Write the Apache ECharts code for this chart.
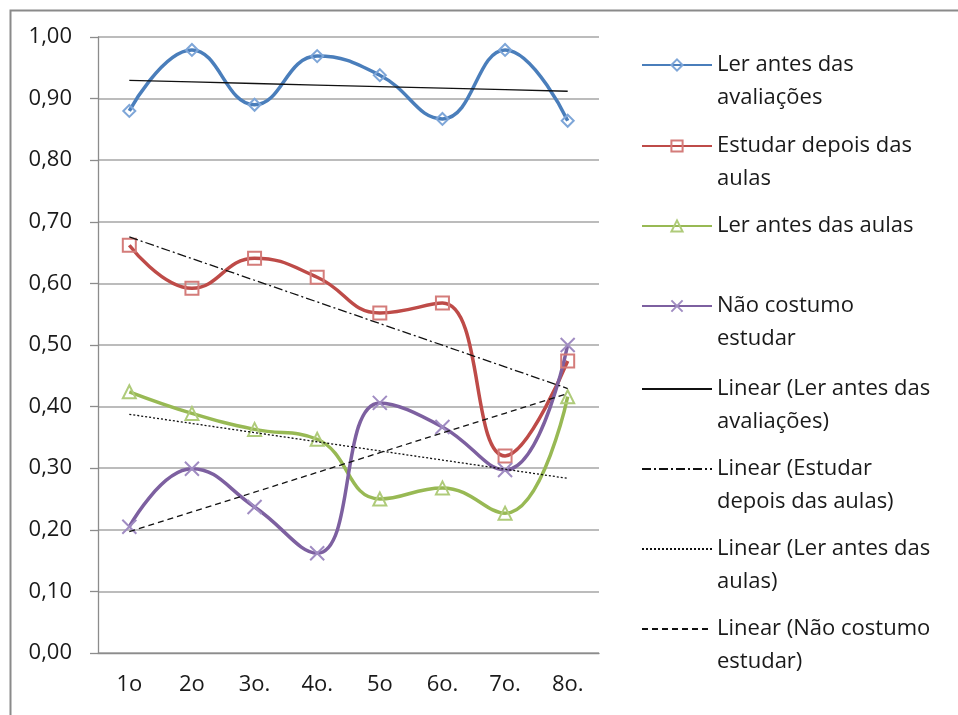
<!DOCTYPE html>
<html>
<head>
<meta charset="utf-8">
<script src="https://cdn.jsdelivr.net/npm/echarts@6/dist/echarts.min.js"></script>
<style>
html,body{margin:0;padding:0;background:#fff;}
#c{width:958px;height:715px;}
</style>
</head>
<body>
<div id="c"></div>
<script>
var categories = ['1o', '2o', '3o.', '4o.', '5o', '6o.', '7o.', '8o.'];
var lerAvaliacoes = [0.880, 0.979, 0.890, 0.969, 0.938, 0.867, 0.979, 0.864];
var estudarDepois = [0.662, 0.592, 0.641, 0.610, 0.552, 0.568, 0.320, 0.474];
var lerAulas = [0.424, 0.389, 0.363, 0.347, 0.250, 0.268, 0.227, 0.416];
var naoCostumo = [0.205, 0.299, 0.237, 0.162, 0.406, 0.367, 0.297, 0.500];
var seriesNames = ['Ler antes das\navaliações', 'Estudar depois das\naulas', 'Ler antes das aulas', 'Não costumo\nestudar'];
var trendNames = ['Linear (Ler antes das\navaliações)', 'Linear (Estudar\ndepois das aulas)', 'Linear (Ler antes das\naulas)', 'Linear (Não costumo\nestudar)'];

function linearTrend(vals) {
  var n = vals.length, sx = 0, sy = 0, sxy = 0, sxx = 0;
  for (var i = 0; i < n; i++) { var x = i + 1; sx += x; sy += vals[i]; sxy += x * vals[i]; sxx += x * x; }
  var b = (n * sxy - sx * sy) / (n * sxx - sx * sx);
  var a = (sy - b * sx) / n;
  return vals.map(function (v, i) { return a + b * (i + 1); });
}

var FONT = '"Open Sans"';
var FS = 22;
var mainColors = ['#4A7EBB', '#BE4B48', '#98B954', '#7D60A0'];
var markColors = ['#7EA6D8', '#D47C7A', '#AFCB7A', '#A08CC2'];
var symbols = ['diamond', 'rect', 'triangle', 'path://M0,0L10,10M10,0L0,10'];
var symSizes = [12, 13, 13, 14];
var dataSets = [lerAvaliacoes, estudarDepois, lerAulas, naoCostumo];
var trendTypes = ['solid', [9, 3, 2, 3], [2, 2], [6, 4]];

var series = [];
for (var k = 0; k < 4; k++) {
  series.push({
    name: seriesNames[k],
    type: 'line',
    data: dataSets[k],
    smooth: 0.45,
    symbol: symbols[k],
    symbolSize: symSizes[k],
    showAllSymbol: true,
    color: mainColors[k],
    lineStyle: { color: mainColors[k], width: 3.5 },
    itemStyle: { color: 'rgba(255,255,255,0)', borderColor: markColors[k], borderWidth: 2 },
    z: 3
  });
}
for (var k = 0; k < 4; k++) {
  series.push({
    name: trendNames[k],
    type: 'line',
    data: linearTrend(dataSets[k]),
    symbol: 'none',
    color: '#111',
    lineStyle: { color: '#111', width: 1.3, type: trendTypes[k] },
    itemStyle: { color: 'rgba(0,0,0,0)', borderWidth: 0, borderColor: 'rgba(0,0,0,0)' },
    z: 4
  });
}

var allNames = seriesNames.concat(trendNames);
var iconY = [65, 146, 226, 306, 389, 469, 549, 629];
var L = 33;
var legends = allNames.map(function (nm, i) {
  var twoLine = nm.indexOf('\n') >= 0;
  return {
    orient: 'vertical',
    left: 641,
    top: twoLine ? iconY[i] - 1.5 * L : iconY[i] - 0.5 * L,
    padding: 0,
    itemWidth: 70,
    itemHeight: 14,
    selectedMode: false,
    data: [nm],
    formatter: function (name) { return name.indexOf('\n') >= 0 ? '\n' + name : name; },
    textStyle: { fontFamily: FONT, fontSize: FS, lineHeight: L, color: '#1a1a1a' }
  };
});

var chart = echarts.init(document.getElementById('c'), null, { renderer: 'canvas' });
chart.setOption({
  backgroundColor: '#fff',
  animation: false,
  graphic: [{
    type: 'rect', left: 8, top: 8, shape: { width: 980, height: 740 },
    style: { fill: 'none', stroke: '#8a8a8a', lineWidth: 2 }, z: -1
  }],
  legend: legends,
  grid: { left: 98, top: 37, right: 359, bottom: 62, containLabel: false },
  xAxis: {
    type: 'category',
    data: categories,
    boundaryGap: true,
    axisLine: { lineStyle: { color: '#8c8c8c', width: 1.3 } },
    axisTick: { length: 9, lineStyle: { color: '#8c8c8c', width: 1.3 } },
    axisLabel: { fontFamily: FONT, fontSize: FS, color: '#1a1a1a', margin: 21 }
  },
  yAxis: {
    type: 'value',
    min: 0, max: 1, interval: 0.1,
    axisLine: { show: true, lineStyle: { color: '#8c8c8c', width: 1.3 } },
    axisTick: { show: true, length: 8, lineStyle: { color: '#8c8c8c', width: 1.3 } },
    splitLine: { lineStyle: { color: '#a6a6a6', width: 1.5 } },
    axisLabel: {
      fontFamily: FONT, fontSize: FS, color: '#1a1a1a', margin: 26,
      formatter: function (v) { return v.toFixed(2).replace('.', ','); }
    }
  },
  series: series
});
</script>
</body>
</html>
